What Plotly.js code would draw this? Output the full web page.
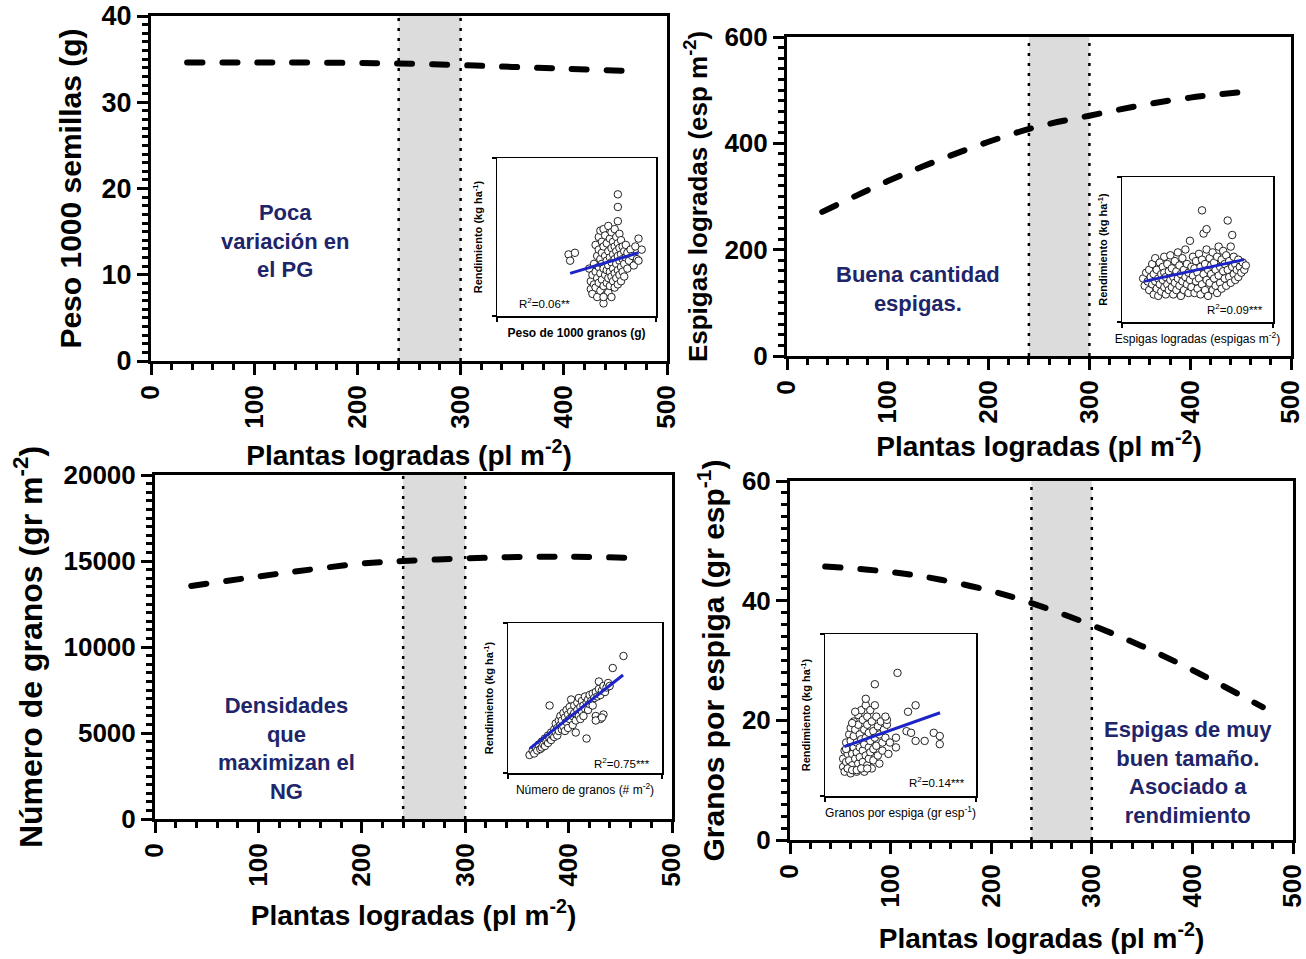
<!DOCTYPE html>
<html><head><meta charset="utf-8">
<script src="https://cdn.plot.ly/plotly-3.0.1.min.js"></script>
<style>html,body{margin:0;padding:0;background:#fff;}#chart{width:1306px;height:959px;}</style>
</head><body><div id="chart"></div>
<script>
// ---------- data ----------
const xTicks = [0, 100, 200, 300, 400, 500];
const bandX = [240, 300];

const plantsPG = [35, 100, 150, 200, 240, 300, 350, 400, 470];
const pesoPG   = [34.6, 34.6, 34.6, 34.55, 34.5, 34.3, 34.1, 33.9, 33.6];
const yTicksPG = [0, 10, 20, 30, 40];

const plantsEsp = [35, 100, 150, 200, 250, 300, 350, 400, 455];
const espigas   = [271, 329, 368, 403, 432, 452, 471, 486, 497];
const yTicksEsp = [0, 200, 400, 600];

const plantsNG = [35, 100, 150, 200, 240, 300, 350, 400, 470];
const granos   = [13550, 14100, 14500, 14850, 15000, 15150, 15230, 15250, 15170];
const yTicksNG = [0, 5000, 10000, 15000, 20000];

const plantsGE = [35, 100, 150, 200, 240, 300, 350, 400, 470];
const granosEsp = [45.7, 44.8, 43.5, 41.6, 39.6, 35.9, 32.4, 28.4, 22.2];
const yTicksGE = [0, 20, 40, 60];

// insets (relative units, axes without scale)
const ins1 = [[58,30],[59,22],[59,17],[60,26],[60,14],[61,33],[61,20],[62,45],[62,28],[62,18],
[63,38],[63,24],[63,12],[64,50],[64,42],[64,31],[64,21],[65,54],[65,36],[65,27],
[65,16],[66,47],[66,40],[66,33],[66,23],[67,55],[67,44],[67,30],[67,19],[67,8],
[68,51],[68,38],[68,26],[68,13],[69,46],[69,35],[69,29],[69,21],[70,57],[70,41],
[70,32],[70,24],[70,15],[71,49],[71,37],[71,28],[71,19],[72,53],[72,43],[72,34],
[72,25],[72,12],[73,47],[73,39],[73,30],[73,22],[74,55],[74,44],[74,36],[74,27],
[74,18],[75,50],[75,41],[75,33],[75,24],[76,46],[76,38],[76,29],[76,20],[77,52],
[77,43],[77,35],[77,26],[78,48],[78,39],[78,31],[78,22],[79,44],[79,36],[79,28],
[80,41],[80,33],[80,25],[81,45],[81,37],[82,40],[82,30],[83,35],[84,42],[85,38],
[86,32],[87,44],[88,36],[76,77],[76,69],[76,60],[45,39],[49,40],[46,35],[89,49],
[89,35],[67,12],[91,42]];
const fit1X = [46, 89], fit1Y = [27, 40];

const ins2 = [[14,30],[15,25],[16,34],[17,28],[18,22],[18,36],[19,31],[20,26],[20,40],[21,19],
[21,33],[22,28],[22,44],[23,23],[23,36],[24,30],[24,18],[25,41],[25,26],[26,33],
[26,21],[27,38],[27,29],[28,45],[28,24],[28,34],[29,19],[29,31],[30,40],[30,26],
[31,35],[31,22],[32,29],[32,46],[33,37],[33,24],[34,31],[34,19],[35,42],[35,27],
[36,35],[36,22],[37,48],[37,30],[38,25],[38,39],[39,18],[39,33],[40,44],[40,28],
[41,36],[41,22],[42,31],[42,50],[43,26],[43,40],[44,34],[44,20],[45,56],[45,29],
[46,38],[46,24],[47,45],[47,32],[48,20],[48,37],[49,28],[49,42],[50,34],[50,23],
[51,47],[51,30],[52,38],[52,19],[53,26],[53,43],[54,61],[54,33],[55,22],[55,40],
[56,29],[56,50],[57,36],[57,18],[58,44],[58,27],[59,33],[59,39],[60,22],[60,48],
[61,30],[61,41],[62,25],[62,36],[63,45],[63,20],[64,32],[64,52],[65,38],[65,27],
[66,43],[66,23],[67,35],[67,49],[68,30],[68,40],[69,25],[69,46],[70,36],[70,70],
[71,31],[71,42],[72,27],[72,52],[73,38],[73,60],[74,33],[74,45],[75,29],[75,40],
[76,36],[77,43],[77,31],[78,38],[79,34],[80,41],[81,36],[82,39],[53,77],[56,64]];
const fit2X = [14.6, 80.8], fit2Y = [28, 43];

const ins3 = [[14,12],[16,15],[17,13],[18,17],[19,15],[20,19],[21,16],[22,21],[22,17],[23,19],
[24,23],[24,18],[25,21],[26,25],[26,20],[27,23],[27,45],[28,27],[28,22],[29,25],
[30,29],[30,24],[31,27],[31,33],[32,30],[32,25],[33,35],[33,28],[34,32],[34,38],
[35,29],[35,35],[36,40],[36,31],[37,37],[37,28],[38,42],[38,34],[39,39],[39,30],
[40,44],[40,36],[41,41],[41,49],[42,38],[42,32],[43,45],[43,40],[44,35],[44,27],
[45,47],[45,42],[46,38],[46,50],[47,44],[47,36],[48,48],[48,41],[49,45],[49,38],
[50,51],[50,43],[51,47],[51,23],[52,49],[52,42],[53,52],[53,46],[54,48],[55,53],
[55,45],[56,50],[57,54],[57,38],[58,51],[59,56],[59,61],[60,52],[60,36],[61,55],
[62,58],[62,39],[63,54],[64,57],[65,60],[66,58],[68,70],[75,78],[57,35],[61,37]];
const fit3X = [14.3, 74.7], fit3Y = [16.4, 65.3];

const ins4 = [[12,23],[12,18],[13,28],[13,15],[14,33],[14,21],[15,26],[15,17],[16,38],[16,30],
[16,22],[17,14],[17,42],[17,34],[18,26],[18,19],[19,46],[19,37],[19,30],[19,16],
[20,23],[20,41],[21,33],[21,27],[21,15],[22,50],[22,44],[22,20],[23,38],[23,30],
[23,24],[24,53],[24,17],[24,35],[25,47],[25,28],[25,21],[26,41],[26,32],[26,15],
[27,56],[27,36],[27,25],[28,49],[28,44],[28,19],[29,30],[29,39],[29,23],[30,53],
[30,34],[30,27],[31,46],[31,17],[32,40],[32,29],[32,22],[33,56],[33,36],[34,49],
[34,31],[35,43],[35,25],[36,38],[36,20],[37,46],[38,33],[38,28],[39,41],[40,36],
[41,44],[42,26],[14,29],[18,45],[20,52],[15,17],[18,16],[21,16],[24,17],[28,17],
[48,76],[33,69],[27,60],[60,56],[55,52],[72,39],[76,37],[76,32],[66,34],[60,34],
[47,36],[47,30],[54,40],[57,39],[43,33],[41,47],[40,49]];
const fit4X = [12.8, 76.2], fit4Y = [30.5, 51.4];

// ---------- layout helpers ----------
const W = 1306, H = 959;
const FONT = 'Liberation Sans, Arial, sans-serif';
const NAVY = '#202468';
const dx = (a, b) => [a / W, b / W];
const dy = (t, b) => [1 - b / H, 1 - t / H];
const px = v => v / W, py = v => 1 - v / H;

function mainX(domain, anchor, standoff) {
  return {
    domain, anchor, range: [0, 500], tickmode: 'array', tickvals: xTicks, ticktext: xTicks.map(String),
    tickangle: -90, ticks: 'outside', ticklen: 11, tickwidth: 3, tickcolor: '#000', ticklabeloverflow: 'allow',
    minor: {tickmode: 'linear', tick0: 0, dtick: 20, ticks: 'outside', ticklen: 6, tickwidth: 3, tickcolor: '#000'},
    showline: true, linewidth: 3, linecolor: '#000', mirror: true, showgrid: false, zeroline: false,
    tickfont: {family: FONT, size: 26, color: '#000', weight: 'bold'},
    title: {text: 'Plantas logradas (pl m<sup>-2</sup>)', font: {family: FONT, size: 28, color: '#000', weight: 'bold'}, standoff}
  };
}
function mainY(domain, anchor, range, ticks, minor, title, tsize, standoff, fsize) {
  return {
    domain, anchor, range, tickmode: 'array', tickvals: ticks, ticktext: ticks.map(String),
    ticks: 'outside', ticklen: 11, tickwidth: 3, tickcolor: '#000', ticklabeloverflow: 'allow',
    minor: {tickmode: 'linear', tick0: 0, dtick: minor, ticks: 'outside', ticklen: 6, tickwidth: 3, tickcolor: '#000'},
    showline: true, linewidth: 3, linecolor: '#000', mirror: true, showgrid: false, zeroline: false,
    tickfont: {family: FONT, size: fsize || 26, color: '#000', weight: 'bold'},
    title: {text: title, font: {family: FONT, size: tsize, color: '#000', weight: 'bold'}, standoff}
  };
}
function insX(domain, anchor, title, bold) {
  return {
    domain, anchor, range: [0, 100], tickmode: 'array', tickvals: [0, 100], showticklabels: false,
    ticks: 'outside', ticklen: 4, tickwidth: 1.5, tickcolor: '#000',
    showline: true, linewidth: 1.5, linecolor: '#000', mirror: true, showgrid: false, zeroline: false,
    title: {text: title, font: {family: FONT, size: 12, color: '#000', weight: bold ? 'bold' : 'normal'}, standoff: 8}
  };
}
function insY(domain, anchor) {
  return {
    domain, anchor, range: [0, 100], tickmode: 'array', tickvals: [0, 100], showticklabels: false,
    ticks: 'outside', ticklen: 4, tickwidth: 1.5, tickcolor: '#000',
    showline: true, linewidth: 1.5, linecolor: '#000', mirror: true, showgrid: false, zeroline: false,
    title: {text: 'Rendimiento (kg ha<sup>-1</sup>)', font: {family: FONT, size: 11, color: '#000', weight: 'bold'}, standoff: 6}
  };
}

// ---------- traces ----------
const dashLine = {color: '#000', width: 6, dash: '15px,20px', shape: 'spline'};
function curve(x, y, xa, ya) {
  return {type: 'scatter', mode: 'lines', x, y, xaxis: xa, yaxis: ya, line: dashLine, hoverinfo: 'skip', showlegend: false, name: 'curve'};
}
function pts(arr, xa, ya) {
  return {type: 'scatter', mode: 'markers', x: arr.map(p => p[0]), y: arr.map(p => p[1]), xaxis: xa, yaxis: ya,
    marker: {symbol: 'circle', size: 7.5, color: '#fff', line: {color: '#222', width: 1}}, showlegend: false, hoverinfo: 'skip'};
}
function fit(x, y, xa, ya) {
  return {type: 'scatter', mode: 'lines', x, y, xaxis: xa, yaxis: ya, line: {color: '#1c24c8', width: 3}, showlegend: false, hoverinfo: 'skip'};
}

const data = [
  curve(plantsPG, pesoPG, 'x', 'y'),
  curve(plantsEsp, espigas, 'x2', 'y2'),
  curve(plantsNG, granos, 'x3', 'y3'),
  curve(plantsGE, granosEsp, 'x4', 'y4'),
  pts(ins1, 'x5', 'y5'), fit(fit1X, fit1Y, 'x5', 'y5'),
  pts(ins2, 'x6', 'y6'), fit(fit2X, fit2Y, 'x6', 'y6'),
  pts(ins3, 'x7', 'y7'), fit(fit3X, fit3Y, 'x7', 'y7'),
  pts(ins4, 'x8', 'y8'), fit(fit4X, fit4Y, 'x8', 'y8')
];

// ---------- shapes ----------
const shapes = [];
['', '2', '3', '4'].forEach(s => {
  const xr = 'x' + s, yr = 'y' + (s) + ' domain';
  shapes.push({type: 'rect', xref: xr, yref: yr, x0: bandX[0], x1: bandX[1], y0: 0, y1: 1, fillcolor: '#dcdcdc', line: {width: 0}, layer: 'below'});
  bandX.forEach(v => shapes.push({type: 'line', xref: xr, yref: yr, x0: v, x1: v, y0: 0, y1: 1, line: {color: '#000', width: 2.5, dash: '3px,7px'}, layer: 'below'}));
});

// ---------- annotations ----------
const noteFont = {family: FONT, size: 22, color: NAVY, weight: 'bold'};
function note(text, x, y) {
  return {text, xref: 'paper', yref: 'paper', x: px(x), y: py(y), xanchor: 'center', yanchor: 'middle', showarrow: false, font: noteFont, align: 'center'};
}
function r2(text, xa, ya, x, y) {
  return {text, xref: xa, yref: ya, x, y, xanchor: 'center', yanchor: 'middle', showarrow: false, font: {family: FONT, size: 11.5, color: '#000'}};
}
const annotations = [
  note('Poca<br>variación en<br>el PG', 285, 241),
  note('Buena cantidad<br>espigas.', 918, 289),
  note('Densidades<br>que<br>maximizan el<br>NG', 286, 748),
  note('Espigas de muy<br>buen tamaño.<br>Asociado a<br>rendimiento', 1188, 772),
  r2('R<sup>2</sup>=0.06**', 'x5', 'y5', 30, 8),
  r2('R<sup>2</sup>=0.09***', 'x6', 'y6', 75, 9),
  r2('R<sup>2</sup>=0.75***', 'x7', 'y7', 74, 7),
  r2('R<sup>2</sup>=0.14***', 'x8', 'y8', 74, 8.6)
];

const layout = {
  width: W, height: H, margin: {l: 0, r: 0, t: 0, b: 0},
  paper_bgcolor: '#fff', plot_bgcolor: '#fff', showlegend: false,
  font: {family: FONT, color: '#000'},
  xaxis: mainX(dx(151, 667), 'y', 18),
  yaxis: mainY(dy(16, 361), 'x', [0, 40], yTicksPG, 1, 'Peso 1000 semillas (g)', 30, 12, 27),
  xaxis2: mainX(dx(787, 1291), 'y2', 14),
  yaxis2: mainY(dy(37, 356), 'x2', [0, 600], yTicksEsp, 20, 'Espigas logradas (esp m<sup>-2</sup>)', 26, 10),
  xaxis3: mainX(dx(155, 672), 'y3', 20),
  yaxis3: mainY(dy(475, 819), 'x3', [0, 20000], yTicksNG, 500, 'Número de granos (gr m<sup>-2</sup>)', 32, 12),
  xaxis4: mainX(dx(790, 1293), 'y4', 22),
  yaxis4: mainY(dy(481, 840), 'x4', [0, 60], yTicksGE, 2, 'Granos por espiga (gr esp<sup>-1</sup>)', 30, 9),
  xaxis5: insX(dx(497, 656), 'y5', 'Peso de 1000 granos (g)', true),
  yaxis5: insY(dy(158, 316), 'x5'),
  xaxis6: insX(dx(1122, 1273), 'y6', 'Espigas logradas (espigas m<sup>-2</sup>)', false),
  yaxis6: insY(dy(177, 322), 'x6'),
  xaxis7: insX(dx(508, 662), 'y7', 'Número de granos (# m<sup>-2</sup>)', false),
  yaxis7: insY(dy(623, 773), 'x7'),
  xaxis8: insX(dx(825, 976), 'y8', 'Granos por espiga (gr esp<sup>-1</sup>)', false),
  yaxis8: insY(dy(634, 796), 'x8'),
  shapes, annotations
};

Plotly.newPlot('chart', data, layout, {displayModeBar: false, staticPlot: true}).then(gd => {
  // rounded dash ends like the reference curves
  gd.querySelectorAll('.scatterlayer .trace').forEach((t, i) => {
    if (i < 4) t.querySelectorAll('path.js-line').forEach(p => p.style.strokeLinecap = 'round');
  });
});
</script></body></html>
